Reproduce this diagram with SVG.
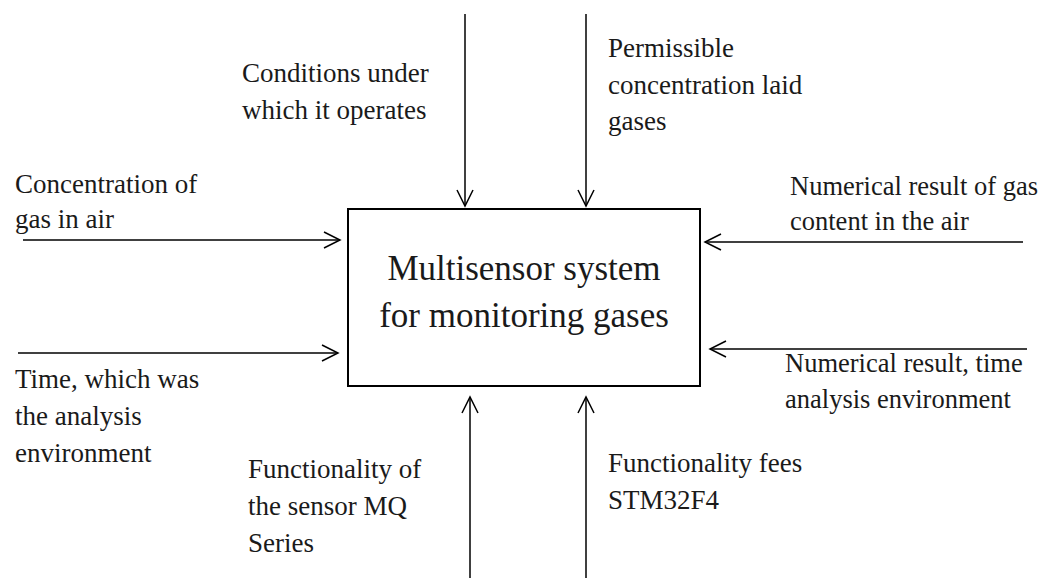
<svg xmlns="http://www.w3.org/2000/svg" width="1054" height="580" viewBox="0 0 1054 580">
<defs>
<marker id="ah" viewBox="0 0 20 20" refX="18" refY="10" markerWidth="20" markerHeight="20" markerUnits="userSpaceOnUse" orient="auto">
<path d="M2,2 L18,10 L2,18" fill="none" stroke="#000" stroke-width="1.5"/>
</marker>
<style>
.lbl{font-family:"Liberation Serif","Times New Roman",serif;font-size:27px;fill:#1a1a1a}
.rl{font-size:26.5px}
.ttl{font-family:"Liberation Serif","Times New Roman",serif;font-size:35px;fill:#1a1a1a;text-anchor:middle}
.ln{stroke:#000;stroke-width:1.5;fill:none;marker-end:url(#ah)}
</style>
</defs>
<rect width="1054" height="580" fill="#fff"/>
<g id="node-system">
<rect x="348" y="209" width="352" height="177" fill="#fff" stroke="#000" stroke-width="2"/>
<text class="ttl" x="524" y="280">Multisensor system</text>
<text class="ttl" x="524" y="327">for monitoring gases</text>
</g>
<g id="connectors">
<line class="ln" x1="23" y1="240" x2="340" y2="240"/>
<line class="ln" x1="18" y1="353" x2="338" y2="353"/>
<line class="ln" x1="1023" y1="242" x2="705" y2="242"/>
<line class="ln" x1="1027" y1="349" x2="710" y2="349"/>
<line class="ln" x1="465" y1="14" x2="465" y2="206"/>
<line class="ln" x1="586" y1="14" x2="586" y2="206"/>
<line class="ln" x1="470" y1="578" x2="470" y2="397"/>
<line class="ln" x1="586" y1="578" x2="586" y2="397"/>
</g>
<g id="label-input1"><text class="lbl" x="15" y="193">Concentration of</text><text class="lbl" x="15" y="228">gas in air</text></g>
<g id="label-input2"><text class="lbl" x="15" y="388">Time, which was</text><text class="lbl" x="15" y="425">the analysis</text><text class="lbl" x="15" y="462">environment</text></g>
<g id="label-output1"><text class="lbl rl" x="790" y="195">Numerical result of gas</text><text class="lbl rl" x="790" y="230">content in the air</text></g>
<g id="label-output2"><text class="lbl rl" x="785" y="372">Numerical result, time</text><text class="lbl rl" x="785" y="408">analysis environment</text></g>
<g id="label-control1"><text class="lbl" x="242" y="82">Conditions under</text><text class="lbl" x="242" y="119">which it operates</text></g>
<g id="label-control2"><text class="lbl" x="608" y="57">Permissible</text><text class="lbl" x="608" y="94">concentration laid</text><text class="lbl" x="608" y="130">gases</text></g>
<g id="label-mech1"><text class="lbl" x="248" y="478">Functionality of</text><text class="lbl" x="248" y="515">the sensor MQ</text><text class="lbl" x="248" y="552">Series</text></g>
<g id="label-mech2"><text class="lbl" x="608" y="472">Functionality fees</text><text class="lbl" x="608" y="509">STM32F4</text></g>
</svg>
